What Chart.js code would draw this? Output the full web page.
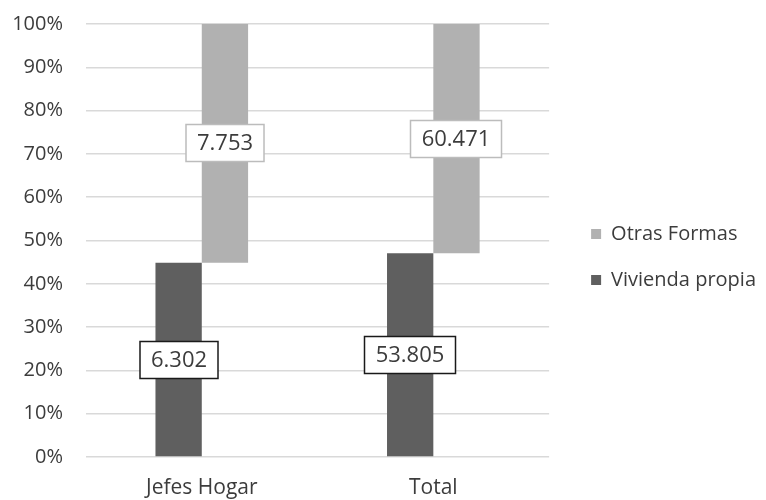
<!DOCTYPE html>
<html>
<head>
<meta charset="utf-8">
<script src="https://cdn.jsdelivr.net/npm/chart.js@4/dist/chart.umd.min.js"></script>
<style>
  html, body { margin: 0; padding: 0; background: #fff; }
  #wrap { width: 766px; height: 500px; position: relative; }
</style>
</head>
<body>
<div id="wrap"><canvas id="chart"></canvas></div>
<script>
// Tenencia de vivienda: conteos por categoría
const categories = ['Jefes Hogar', 'Total'];
const viviendaPropia = [6302, 53805];
const otrasFormas = [7753, 60471];
const yTicks = [0, 10, 20, 30, 40, 50, 60, 70, 80, 90, 100];

const DARK = '#5f5f5f';
const LIGHT = '#b1b1b1';
const TEXT = '#3c3c3c';
const FONT = "'Open Sans', sans-serif";

// Share of each series within its category, as floating [start, end] bars
const totals = categories.map((_, i) => viviendaPropia[i] + otrasFormas[i]);
const propiaPct = viviendaPropia.map((v, i) => v / totals[i] * 100);
const propiaBars = propiaPct.map(p => [0, p]);
const otrasBars = propiaPct.map(p => [p, 100]);

// Format counts with a dot as thousands separator
function formatCount(v) {
  return String(v).replace(/\B(?=(\d{3})+(?!\d))/g, '.');
}

// Boxed value labels centred on each bar segment
const boxedLabels = {
  id: 'boxedLabels',
  afterDatasetsDraw(chart) {
    const ctx = chart.ctx;
    ctx.save();
    ctx.font = '22px ' + FONT;
    ctx.textAlign = 'center';
    ctx.textBaseline = 'middle';
    chart.data.datasets.forEach((ds, di) => {
      const meta = chart.getDatasetMeta(di);
      meta.data.forEach((bar, i) => {
        const text = formatCount(ds.counts[i]);
        const w = Math.round(ctx.measureText(text).width + 22);
        const h = 37;
        const cx = Math.round(bar.x);
        const cy = Math.round((bar.y + bar.base) / 2);
        ctx.fillStyle = '#fff';
        ctx.fillRect(cx - w / 2, cy - h / 2, w, h);
        ctx.lineWidth = 1.5;
        ctx.strokeStyle = ds.labelBorder;
        ctx.strokeRect(cx - w / 2, cy - h / 2, w, h);
        ctx.fillStyle = TEXT;
        ctx.fillText(text, cx, cy + 1);
      });
    });
    ctx.restore();
  }
};

new Chart(document.getElementById('chart'), {
  type: 'bar',
  data: {
    labels: categories,
    datasets: [
      {
        label: 'Vivienda propia',
        data: propiaBars,
        counts: viviendaPropia,
        backgroundColor: DARK,
        labelBorder: '#1a1a1a'
      },
      {
        label: 'Otras Formas',
        data: otrasBars,
        counts: otrasFormas,
        backgroundColor: LIGHT,
        labelBorder: '#bcbcbc'
      }
    ]
  },
  options: {
    responsive: true,
    maintainAspectRatio: false,
    animation: false,
    categoryPercentage: 0.4,
    barPercentage: 1.0,
    layout: { padding: { top: 14, right: 0, bottom: 0, left: 0 } },
    scales: {
      x: {
        grid: { display: false },
        border: { display: false },
        ticks: { color: TEXT, font: { family: FONT, size: 21 }, padding: 10 },
        afterFit(scale) { scale.height = 43; }
      },
      y: {
        min: 0,
        max: 100,
        afterBuildTicks(scale) { scale.ticks = yTicks.map(v => ({ value: v })); },
        grid: { color: '#d9d9d9', lineWidth: 1.5, drawTicks: false },
        border: { display: false },
        ticks: {
          color: TEXT,
          font: { family: FONT, size: 20 },
          padding: 23,
          callback: v => v + '%'
        },
        afterFit(scale) {
          scale.width = 86;
          scale.paddingTop = 24;
          scale.paddingBottom = 0;
        }
      },
      spacer: {
        type: 'linear',
        position: 'right',
        display: true,
        grid: { display: false },
        border: { display: false },
        ticks: { display: false },
        afterFit(scale) { scale.width = 16; }
      }
    },
    plugins: {
      legend: {
        position: 'right',
        reverse: true,
        maxWidth: 260,
        labels: {
          boxWidth: 10,
          boxHeight: 10,
          padding: 26,
          color: TEXT,
          font: { family: FONT, size: 20 }
        }
      },
      tooltip: { enabled: false }
    }
  },
  plugins: [boxedLabels]
});
</script>
</body>
</html>
